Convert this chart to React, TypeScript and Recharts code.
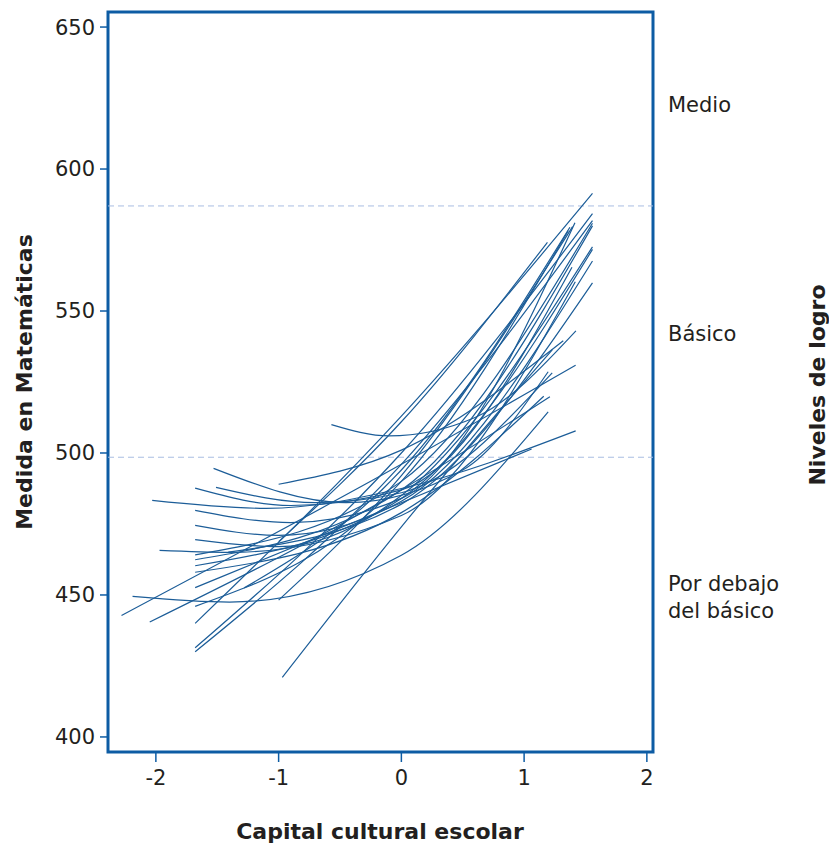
import React from 'react';
import { LineChart, Line, XAxis, YAxis, ReferenceLine, ReferenceArea } from 'recharts';

// axis ticks and the two cut scores between achievement levels
const xTicks = [-2, -1, 0, 1, 2];
const yTicks = [400, 450, 500, 550, 600, 650];
const levelCuts = [498.5, 587];
const levelLabels = ['Medio', 'Básico', 'Por debajo|del básico'];

// one fitted curve per school: [capital cultural, media en matemáticas]
const school01 = [[-1.68, 440], [0, 513], [1.557, 591.4]];
const school02 = [[-1.68, 431.4], [0, 500], [1.557, 584.3]];
const school03 = [[-1.68, 430], [0, 496], [1.557, 581.8]];
const school04 = [[-1.68, 464.1], [0, 490], [1.557, 580.9]];
const school05 = [[-1.68, 462.4], [0, 487], [1.557, 580]];
const school06 = [[-1.68, 469.5], [-1.0, 467], [0, 485], [1.557, 572.6]];
const school07 = [[-1.68, 460.3], [0, 484], [1.557, 571.7]];
const school08 = [[-1.68, 474.5], [-1.0, 471], [0, 483], [1.557, 567.6]];
const school09 = [[-1.41, 465.1], [0, 482], [1.557, 559.9]];
const school10 = [[-1.68, 479.8], [-0.9, 475.5], [0, 484], [1.414, 581.1]];
const school11 = [[-1.0, 448.2], [0, 492], [1.395, 579.7]];
const school12 = [[-1.28, 452.5], [0, 494], [1.373, 579.5]];
const school13 = [[-1.68, 446], [0, 490], [1.36, 578.3]];
const school14 = [[-1.0, 468.8], [0, 511], [1.19, 574.2]];
const school15 = [[-2.28, 442.8], [0, 496], [1.42, 530.9]];
const school16 = [[-1.97, 465.7], [-1.4, 465], [0, 478], [1.417, 560.3]];
const school17 = [[-0.57, 510], [-0.1, 506], [0.6, 512.5], [1.422, 543]];
const school18 = [[-1.0, 489], [0, 501], [1.319, 539.5]];
const school19 = [[-1.68, 487.6], [-0.9, 481.5], [0, 487], [1.39, 565.4]];
const school20 = [[-0.97, 421], [0, 474], [1.229, 536.3]];
const school21 = [[-1.51, 487.9], [-0.7, 482.5], [0, 486], [1.229, 528.2]];
const school22 = [[-1.68, 458], [0, 479], [1.16, 520]];
const school23 = [[-1.53, 494.6], [-0.45, 482.5], [0.5, 494], [1.196, 528.6]];
const school24 = [[-2.19, 449.5], [-1.4, 447.5], [0, 464], [1.196, 514.5]];
const school25 = [[-2.03, 483.3], [-1.1, 480.5], [0, 487.5], [1.42, 507.8]];
const school26 = [[-1.68, 452.6], [0, 482.5], [1.061, 501.4]];
const school27 = [[-2.05, 440.5], [0, 487], [1.21, 519.8]];

const schools = [
  school01, school02, school03, school04, school05, school06, school07,
  school08, school09, school10, school11, school12, school13, school14,
  school15, school16, school17, school18, school19, school20, school21,
  school22, school23, school24, school25, school26, school27,
];

const X_DOMAIN: [number, number] = [-2.39, 2.05];
const Y_DOMAIN: [number, number] = [394.7, 655.3];

const BLUE = '#0d5ca4';
const LINE = '#1c5d98';
const INK = '#231f20';
const FONT = '"DejaVu Sans", Verdana, sans-serif';

const W = 829;
const H = 845;
const margin = { top: 12, right: 176, bottom: 53, left: 8 };

export default function App() {
  return (
    <div style={{ position: 'absolute', left: 0, top: 0, width: W, height: H, background: '#fff' }}>
      <LineChart width={W} height={H} margin={margin}>
        <XAxis
          type="number"
          dataKey="x"
          domain={X_DOMAIN}
          ticks={xTicks}
          allowDataOverflow
          axisLine={false}
          tickLine={{ stroke: BLUE, strokeWidth: 1.5 }}
          tickSize={10}
          tickMargin={8}
          height={40}
          tick={{ fill: INK, fontSize: 21, fontFamily: FONT }}
        />
        <YAxis
          type="number"
          domain={Y_DOMAIN}
          ticks={yTicks}
          allowDataOverflow
          axisLine={false}
          tickLine={{ stroke: BLUE, strokeWidth: 1.5 }}
          tickSize={8}
          tickMargin={5}
          width={100}
          tick={{ fill: INK, fontSize: 21, fontFamily: FONT }}
        />
        {levelCuts.map((v) => (
          <ReferenceLine key={v} y={v} stroke="#a9bde2" strokeDasharray="6 4" strokeWidth={1} />
        ))}
        {schools.map((pts, i) => (
          <Line
            key={i}
            data={pts.map(([x, y]) => ({ x, y }))}
            dataKey="y"
            type="monotone"
            stroke={LINE}
            strokeWidth={1.2}
            dot={false}
            activeDot={false}
            isAnimationActive={false}
          />
        ))}
        <ReferenceArea
          x1={X_DOMAIN[0]}
          x2={X_DOMAIN[1]}
          y1={Y_DOMAIN[0]}
          y2={Y_DOMAIN[1]}
          fill="none"
          stroke={BLUE}
          strokeWidth={3}
        />
      </LineChart>
      <svg
        width={W}
        height={H}
        style={{ position: 'absolute', left: 0, top: 0, pointerEvents: 'none' }}
      >
        <text x={668} y={112} fontSize={21} fontFamily={FONT} fill={INK}>{levelLabels[0]}</text>
        <text x={668} y={341} fontSize={21} fontFamily={FONT} fill={INK}>{levelLabels[1]}</text>
        {levelLabels[2].split('|').map((s, i) => (
          <text key={s} x={668} y={591 + i * 27} fontSize={21} fontFamily={FONT} fill={INK}>{s}</text>
        ))}
        <text
          transform="translate(32,382) rotate(-90)"
          textAnchor="middle"
          fontSize={22}
          fontWeight="bold"
          fontFamily={FONT}
          fill={INK}
        >
          Medida en Matemáticas
        </text>
        <text
          transform="translate(825,385) rotate(-90)"
          textAnchor="middle"
          fontSize={22}
          fontWeight="bold"
          fontFamily={FONT}
          fill={INK}
        >
          Niveles de logro
        </text>
        <text x={380} y={839} textAnchor="middle" fontSize={22} fontWeight="bold" fontFamily={FONT} fill={INK}>
          Capital cultural escolar
        </text>
      </svg>
    </div>
  );
}
